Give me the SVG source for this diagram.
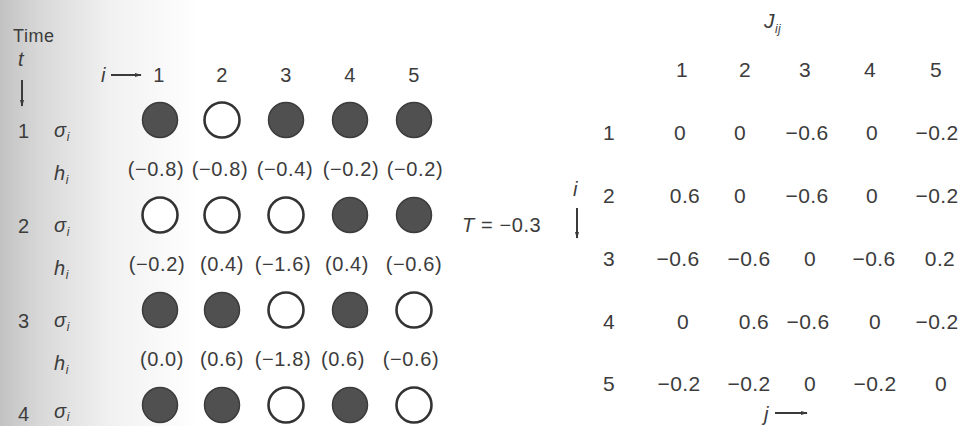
<svg xmlns="http://www.w3.org/2000/svg" width="964" height="426" viewBox="0 0 964 426">
<defs>
<linearGradient id="scan" x1="0" y1="0" x2="1" y2="0">
<stop offset="0" stop-color="#c2c2c2"/>
<stop offset="0.2" stop-color="#d8d8d8"/>
<stop offset="0.55" stop-color="#f1f1f1"/>
<stop offset="1" stop-color="#ffffff"/>
</linearGradient>
<marker id="ah" viewBox="0 0 10 10" refX="9" refY="5" markerWidth="7" markerHeight="7" orient="auto" markerUnits="userSpaceOnUse">
<path d="M0,2 L10,5 L0,8 Z" fill="#3a3a3a"/>
</marker>
<style>
text{font-family:"Liberation Sans",Arial,sans-serif;fill:#3c3c3c}
.l{font-size:20px;letter-spacing:0.6px}
.r{font-size:21px;letter-spacing:0.4px}
.m{text-anchor:middle}
.it{font-style:italic}
.sub{font-size:12px}
.on{fill:#505050;stroke:#3c3c3c;stroke-width:1.5}
.off{fill:#ffffff;stroke:#333333;stroke-width:2.6}
.arr{stroke:#3a3a3a;stroke-width:2;fill:none}
</style>
</defs>
<rect x="0" y="0" width="964" height="426" fill="#ffffff"/>
<rect x="0" y="0" width="200" height="426" fill="url(#scan)"/>

<g id="time-label">
<text x="13" y="42" style="font-size:18px;letter-spacing:0.6px">Time</text>
<text x="18" y="66" class="l it">t</text>
</g>

<g id="col-header-left">
<text x="101" y="82" class="l it">i</text>
<text x="159" y="82" class="l m">1</text>
<text x="222" y="82" class="l m">2</text>
<text x="286" y="82" class="l m">3</text>
<text x="350" y="82" class="l m">4</text>
<text x="414" y="82" class="l m">5</text>
</g>

<g id="row-labels">
<text x="18" y="138" class="l">1</text>
<text x="54" y="137" class="l it">σ<tspan class="sub" dy="4">i</tspan></text>
<text x="54" y="180" class="l it">h<tspan class="sub" dy="4">i</tspan></text>
<text x="18" y="233" class="l">2</text>
<text x="54" y="232" class="l it">σ<tspan class="sub" dy="4">i</tspan></text>
<text x="54" y="275" class="l it">h<tspan class="sub" dy="4">i</tspan></text>
<text x="18" y="328" class="l">3</text>
<text x="54" y="327" class="l it">σ<tspan class="sub" dy="4">i</tspan></text>
<text x="54" y="370" class="l it">h<tspan class="sub" dy="4">i</tspan></text>
<text x="18" y="421" class="l">4</text>
<text x="54" y="418" class="l it">σ<tspan class="sub" dy="3">i</tspan></text>
</g>

<g id="state-t1">
<circle cx="160" cy="120" r="17.5" class="on"/>
<circle cx="222" cy="120" r="17.5" class="off"/>
<circle cx="286" cy="120" r="17.5" class="on"/>
<circle cx="350" cy="120" r="17.5" class="on"/>
<circle cx="414" cy="120" r="17.5" class="on"/>
</g>
<g id="field-t1">
<text x="156" y="176" class="l m">(−0.8)</text>
<text x="220" y="176" class="l m">(−0.8)</text>
<text x="285" y="176" class="l m">(−0.4)</text>
<text x="351" y="176" class="l m">(−0.2)</text>
<text x="415" y="176" class="l m">(−0.2)</text>
</g>
<g id="state-t2">
<circle cx="160" cy="215" r="17.5" class="off"/>
<circle cx="222" cy="215" r="17.5" class="off"/>
<circle cx="286" cy="215" r="17.5" class="off"/>
<circle cx="350" cy="215" r="17.5" class="on"/>
<circle cx="414" cy="215" r="17.5" class="on"/>
</g>
<g id="field-t2">
<text x="157" y="271" class="l m">(−0.2)</text>
<text x="222" y="271" class="l m">(0.4)</text>
<text x="283" y="271" class="l m">(−1.6)</text>
<text x="347" y="271" class="l m">(0.4)</text>
<text x="414" y="271" class="l m">(−0.6)</text>
</g>
<g id="state-t3">
<circle cx="160" cy="310" r="17.5" class="on"/>
<circle cx="222" cy="310" r="17.5" class="on"/>
<circle cx="286" cy="310" r="17.5" class="off"/>
<circle cx="350" cy="310" r="17.5" class="on"/>
<circle cx="414" cy="310" r="17.5" class="off"/>
</g>
<g id="field-t3">
<text x="162" y="366" class="l m">(0.0)</text>
<text x="222" y="366" class="l m">(0.6)</text>
<text x="283" y="366" class="l m">(−1.8)</text>
<text x="343" y="366" class="l m">(0.6)</text>
<text x="411" y="366" class="l m">(−0.6)</text>
</g>
<g id="state-t4">
<circle cx="160" cy="405" r="17.5" class="on"/>
<circle cx="222" cy="405" r="17.5" class="on"/>
<circle cx="286" cy="405" r="17.5" class="off"/>
<circle cx="350" cy="405" r="17.5" class="on"/>
<circle cx="414" cy="405" r="17.5" class="off"/>
</g>

<g id="threshold">
<text x="462" y="232" class="l"><tspan class="it">T</tspan> = −0.3</text>
</g>

<g id="matrix-title">
<text x="764" y="28" class="r it">J<tspan class="sub" dy="5">ij</tspan></text>
</g>
<g id="matrix-header">
<text x="682" y="77" class="r m">1</text>
<text x="745" y="77" class="r m">2</text>
<text x="805" y="77" class="r m">3</text>
<text x="870" y="77" class="r m">4</text>
<text x="936" y="77" class="r m">5</text>
</g>
<g id="matrix-rowlabels">
<text x="609" y="140" class="r m">1</text>
<text x="609" y="203" class="r m">2</text>
<text x="609" y="266" class="r m">3</text>
<text x="609" y="329" class="r m">4</text>
<text x="609" y="391" class="r m">5</text>
<text x="573" y="196" class="l it">i</text>
<text x="764" y="421" class="l it">j</text>
</g>
<g id="matrix-values">
<text x="680" y="140" class="r m">0</text>
<text x="740" y="140" class="r m">0</text>
<text x="807" y="140" class="r m">−0.6</text>
<text x="872" y="140" class="r m">0</text>
<text x="937" y="140" class="r m">−0.2</text>

<text x="685" y="203" class="r m">0.6</text>
<text x="740" y="203" class="r m">0</text>
<text x="807" y="203" class="r m">−0.6</text>
<text x="872" y="203" class="r m">0</text>
<text x="937" y="203" class="r m">−0.2</text>

<text x="678" y="266" class="r m">−0.6</text>
<text x="749" y="266" class="r m">−0.6</text>
<text x="810" y="266" class="r m">0</text>
<text x="874" y="266" class="r m">−0.6</text>
<text x="940" y="266" class="r m">0.2</text>

<text x="683" y="329" class="r m">0</text>
<text x="754" y="329" class="r m">0.6</text>
<text x="808" y="329" class="r m">−0.6</text>
<text x="875" y="329" class="r m">0</text>
<text x="937" y="329" class="r m">−0.2</text>

<text x="679" y="391" class="r m">−0.2</text>
<text x="749" y="391" class="r m">−0.2</text>
<text x="810" y="391" class="r m">0</text>
<text x="875" y="391" class="r m">−0.2</text>
<text x="941" y="391" class="r m">0</text>
</g>

<g id="connectors">
<line x1="22" y1="80" x2="22" y2="106" class="arr" marker-end="url(#ah)"/>
<line x1="111" y1="75" x2="141" y2="75" class="arr" marker-end="url(#ah)"/>
<line x1="577" y1="208" x2="577" y2="238" class="arr" marker-end="url(#ah)"/>
<line x1="775" y1="413" x2="807" y2="413" class="arr" marker-end="url(#ah)"/>
</g>
</svg>
